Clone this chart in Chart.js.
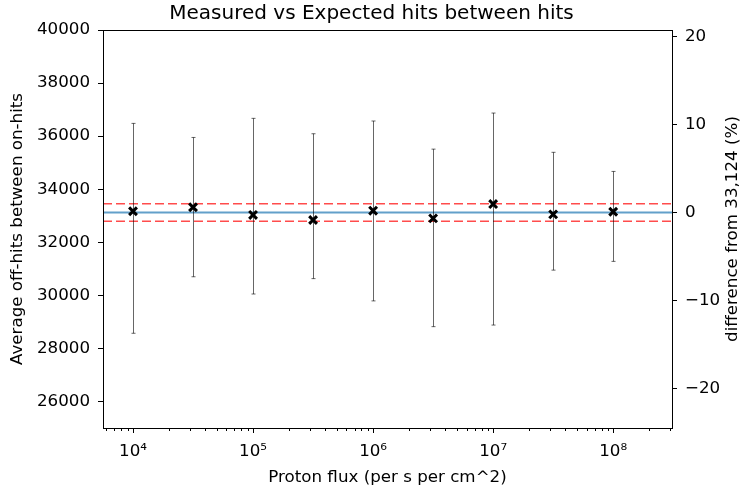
<!DOCTYPE html>
<html>
<head>
<meta charset="utf-8">
<script src="https://cdn.jsdelivr.net/npm/chart.js@4/dist/chart.umd.min.js"></script>
<style>
  html, body { margin: 0; padding: 0; background: #fff; }
  #wrap { width: 743px; height: 491px; }
</style>
</head>
<body>
<div id="wrap"><canvas id="chart" width="743" height="491"></canvas></div>
<script>
// measured points (flux in protons per s per cm^2)
const flux = [1e4, 3.162e4, 1e5, 3.162e5, 1e6, 3.162e6, 1e7, 3.162e7, 1e8];
const measured = [33170, 33320, 33030, 32840, 33190, 32900, 33440, 33050, 33150];
const errLow = [28570, 30700, 30050, 30630, 29790, 28820, 28880, 30950, 31280];
const errHigh = [36480, 35950, 36670, 36090, 36570, 35510, 36870, 35390, 34670];

const expected = 33124;
const tolerance = 0.01;  // +-1% band
const xTicks = [1e4, 1e5, 1e6, 1e7, 1e8];
const yTicks = [26000, 28000, 30000, 32000, 34000, 36000, 38000, 40000];
const pctTicks = [-20, -10, 0, 10, 20];
const rightTitle = 'difference from 33,124 (%)';

const X_MIN = Math.pow(10, 3.75), X_MAX = Math.pow(10, 8.49);
const Y_MIN = 25000, Y_MAX = 40000;
const pct = v => (v - expected) / expected * 100;

const FONT = "'DejaVu Sans', sans-serif";
const FS = 16.7;
const sup = {'0':'⁰','1':'¹','2':'²','3':'³','4':'⁴','5':'⁵','6':'⁶','7':'⁷','8':'⁸','9':'⁹'};

const points = flux.map((f, i) => ({x: f, y: measured[i]}));
const hline = v => [{x: X_MIN, y: v}, {x: X_MAX, y: v}];

// error bars, minor ticks, frame and the right axis label (reads upward like matplotlib)
const extras = {
  id: 'extras',
  afterDatasetsDraw(chart) {
    const ctx = chart.ctx, xs = chart.scales.x, ys = chart.scales.y;
    ctx.save();
    ctx.strokeStyle = 'rgba(0,0,0,0.6)';
    ctx.lineWidth = 1;
    flux.forEach((f, i) => {
      const px = Math.round(xs.getPixelForValue(f)) + 0.5;
      const top = ys.getPixelForValue(errHigh[i]);
      const bot = ys.getPixelForValue(errLow[i]);
      ctx.beginPath();
      ctx.moveTo(px, top); ctx.lineTo(px, bot);
      ctx.moveTo(px - 2, top); ctx.lineTo(px + 2, top);
      ctx.moveTo(px - 2, bot); ctx.lineTo(px + 2, bot);
      ctx.stroke();
    });
    ctx.restore();
  },
  afterDraw(chart) {
    const ctx = chart.ctx, xs = chart.scales.x, y2 = chart.scales.y2, a = chart.chartArea;
    ctx.save();
    ctx.strokeStyle = '#000';
    ctx.lineWidth = 1;
    for (let d = 3; d <= 8; d++) {
      for (let k = 2; k <= 9; k++) {
        const v = k * Math.pow(10, d);
        if (v < X_MIN || v > X_MAX) continue;
        const px = Math.round(xs.getPixelForValue(v)) + 0.5;
        ctx.beginPath();
        ctx.moveTo(px, a.bottom); ctx.lineTo(px, a.bottom + 3);
        ctx.stroke();
      }
    }
    ctx.strokeRect(Math.round(a.left) + 0.5, Math.round(a.top) + 0.5,
      Math.round(a.right - a.left), Math.round(a.bottom - a.top));

    ctx.translate(y2.right - 10, (a.top + a.bottom) / 2);
    ctx.rotate(-Math.PI / 2);
    ctx.fillStyle = '#000';
    ctx.font = FS + 'px ' + FONT;
    ctx.textAlign = 'center';
    ctx.textBaseline = 'middle';
    ctx.fillText(rightTitle, 0, 0);
    ctx.restore();
  }
};

const tickGrid = {display: true, drawOnChartArea: false, drawTicks: true, tickLength: 5, tickColor: '#000', tickWidth: 1};

new Chart(document.getElementById('chart').getContext('2d'), {
  type: 'scatter',
  data: {
    datasets: [
      {
        label: 'measured',
        data: points,
        pointStyle: 'crossRot',
        pointRadius: 5.5,
        pointBorderWidth: 3,
        borderColor: '#000',
        backgroundColor: '#000',
        order: 0
      },
      {
        label: 'expected',
        type: 'line',
        data: hline(expected),
        borderColor: 'rgba(31,119,180,0.7)',
        borderWidth: 2,
        pointRadius: 0,
        order: 2
      },
      {
        label: '+1%',
        type: 'line',
        data: hline(expected * (1 + tolerance)),
        borderColor: 'rgba(255,0,0,0.7)',
        borderWidth: 1.5,
        borderDash: [9, 4],
        pointRadius: 0,
        order: 2
      },
      {
        label: '-1%',
        type: 'line',
        data: hline(expected * (1 - tolerance)),
        borderColor: 'rgba(255,0,0,0.7)',
        borderWidth: 1.5,
        borderDash: [9, 4],
        pointRadius: 0,
        order: 2
      }
    ]
  },
  options: {
    responsive: false,
    animation: false,
    layout: {padding: 0},
    plugins: {
      legend: {display: false},
      tooltip: {enabled: false},
      title: {
        display: true,
        text: 'Measured vs Expected hits between hits',
        color: '#000',
        font: {family: FONT, size: 20, weight: 'normal'},
        padding: {top: 2, bottom: 4}
      }
    },
    scales: {
      x: {
        type: 'logarithmic',
        min: X_MIN, max: X_MAX,
        afterBuildTicks: s => { s.ticks = xTicks.map(v => ({value: v})); },
        afterFit: s => { s.height = 63; },
        grid: tickGrid,
        border: {display: true, color: '#000', width: 1},
        ticks: {
          color: '#000', font: {family: FONT, size: FS}, padding: 9,
          autoSkip: false, maxRotation: 0,
          callback: v => '10' + String(Math.round(Math.log10(v))).split('').map(c => sup[c]).join('')
        },
        title: {display: true, text: 'Proton flux (per s per cm^2)', color: '#000', font: {family: FONT, size: FS}, padding: {top: 0, bottom: 3}}
      },
      y: {
        position: 'left',
        min: Y_MIN, max: Y_MAX,
        afterBuildTicks: s => { s.ticks = yTicks.map(v => ({value: v})); },
        afterFit: s => { s.width = 103; },
        grid: tickGrid,
        border: {display: true, color: '#000', width: 1},
        ticks: {color: '#000', font: {family: FONT, size: FS}, padding: 8, callback: v => String(v)},
        title: {display: true, text: 'Average off-hits between on-hits', color: '#000', font: {family: FONT, size: FS}, padding: {top: 8, bottom: 0}}
      },
      y2: {
        position: 'right',
        min: pct(Y_MIN), max: pct(Y_MAX),
        afterBuildTicks: s => { s.ticks = pctTicks.map(v => ({value: v})); },
        afterFit: s => { s.width = 71; },
        grid: tickGrid,
        border: {display: true, color: '#000', width: 1},
        ticks: {color: '#000', font: {family: FONT, size: FS}, padding: 8, callback: v => String(v).replace('-', '\u2212')}
      }
    }
  },
  plugins: [extras]
});
</script>
</body>
</html>
